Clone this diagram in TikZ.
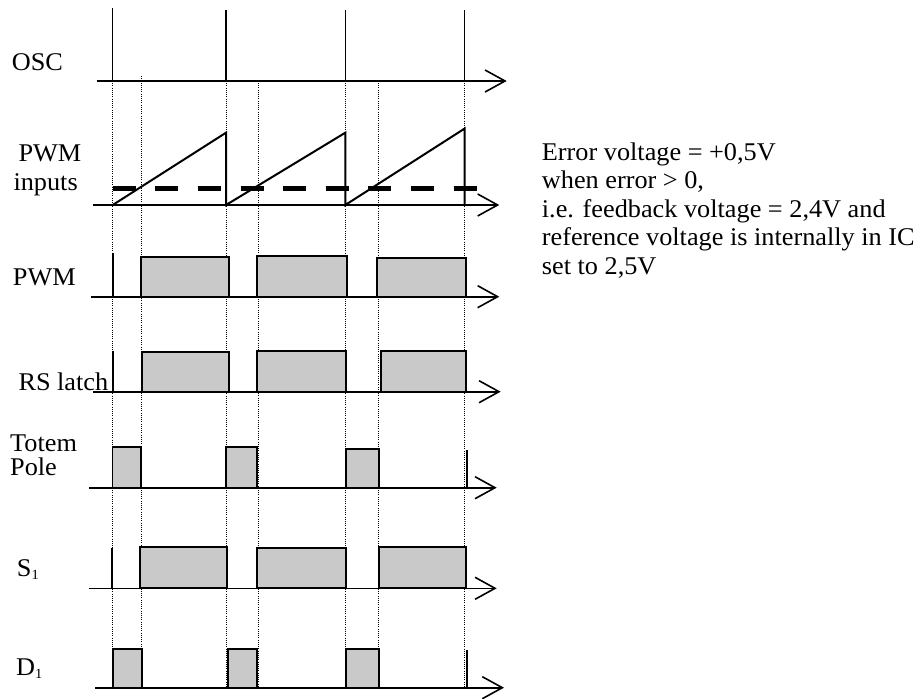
\documentclass[tikz,border=0pt]{standalone}
\usepackage{fontspec}
\setmainfont{Liberation Serif}[FakeStretch=1.03]
\usetikzlibrary{arrows.meta}
\definecolor{pulsegray}{RGB}{201,201,201}
\begin{document}
\begin{tikzpicture}[x=1pt,y=-1pt,
  axis/.style={line width=1.6pt,-{Straight Barb[length=20pt,width=22pt]}},
  edge/.style={line width=1.8pt},
  spike/.style={line width=1.3pt},
  pulse/.style={fill=pulsegray,draw=black,line width=1.8pt},
  guide/.style={line width=0.9pt,black,dash pattern=on 0.9pt off 1.3pt},
  ramp/.style={line width=2pt,line join=miter},
  thr/.style={line width=5pt,dash pattern=on 23pt off 19.6pt},
  lbl/.style={anchor=base west,inner sep=0pt,font=\fontsize{25.5}{28}\selectfont}]
\useasboundingbox (0,0) rectangle (924,699);

% timing guides
\foreach \gx/\gy in {112.7/81,141/76,226/81,258.3/83,345.3/81,378.7/83,464.7/81}
  \draw[guide] (\gx,\gy) -- (\gx,687.7);

% OSC: clock spikes
\foreach \ox/\oy in {112.7/8,226/10,345.3/10,464.7/10}
  \draw[spike] (\ox,\oy) -- (\ox,81);
\coordinate (oscA) at (96.7,81);  \coordinate (oscB) at (506.7,81);
\draw[axis] (oscA) -- (oscB);

% PWM inputs: sawtooth and error level
\draw[ramp] (112.7,205) -- (226,132.7) -- (226,205)
            -- (345.3,132.7) -- (345.3,205)
            -- (464.7,128.5) -- (464.7,205);
\coordinate (thrA) at (112.7,188.3); \coordinate (thrB) at (476.7,188.3);
\draw[thr] (thrA) -- (thrB);
\coordinate (rampA) at (93,205); \coordinate (rampB) at (499.3,205);
\draw[axis] (rampA) -- (rampB);

% PWM
\draw[edge] (112.7,253) -- (112.7,296.7);
\draw[pulse] (141,296.7) rectangle (228.7,256.7);
\draw[pulse] (257.3,296.7) rectangle (346.7,255.7);
\draw[pulse] (377.3,296.7) rectangle (465.7,257.7);
\coordinate (pwmA) at (91,296.7); \coordinate (pwmB) at (499.3,296.7);
\draw[axis] (pwmA) -- (pwmB);

% RS latch
\draw[edge] (112.7,350.7) -- (112.7,391.7);
\draw[pulse] (141.7,391.7) rectangle (229.3,352);
\draw[pulse] (257.3,391.7) rectangle (346,351.3);
\draw[pulse] (380.7,391.7) rectangle (466,351);
\coordinate (rsA) at (93,391.7); \coordinate (rsB) at (500.7,391.7);
\draw[axis] (rsA) -- (rsB);

% Totem pole
\draw[pulse] (112.4,487.7) rectangle (140.7,447.3);
\draw[pulse] (226,487.7) rectangle (256.7,447.3);
\draw[pulse] (346,487.7) rectangle (379.3,448.7);
\draw[edge] (467,450) -- (467,487.7);
\coordinate (tpA) at (89,487.7); \coordinate (tpB) at (496.7,487.7);
\draw[axis] (tpA) -- (tpB);

% S1
\draw[edge] (112.3,548.3) -- (112.3,588.3);
\draw[pulse] (140,588.3) rectangle (227.3,547.3);
\draw[pulse] (256.7,588.3) rectangle (346,548.3);
\draw[pulse] (379.3,588.3) rectangle (466,547.3);
\coordinate (sA) at (89,588.3); \coordinate (sB) at (496.7,588.3);
\draw[axis] (sA) -- (sB);

% D1
\draw[pulse] (112.7,687.7) rectangle (141.7,649);
\draw[pulse] (227.7,687.7) rectangle (257.3,649);
\draw[pulse] (346,687.7) rectangle (379.3,649.3);
\draw[edge] (466.7,650) -- (466.7,687.7);
\coordinate (dA) at (95,687.7); \coordinate (dB) at (504,687.7);
\draw[axis] (dA) -- (dB);

% signal names
\node[lbl] (osc) at (11.7,70) {OSC};
\node[lbl] (pwmin1) at (18.3,161.7) {PWM};
\node[lbl] (pwmin2) at (13.3,190.5) {inputs};
\node[lbl] (pwm) at (12.7,285) {PWM};
\node[lbl] (rs) at (18.3,390) {RS latch};
\node[lbl] (totem) at (10,451.7) {Totem};
\node[lbl] (pole) at (10,475) {Pole};
\node[lbl] (s1) at (16.7,576) {S\raisebox{-3.5pt}{\fontsize{14}{14}\selectfont 1}};
\node[lbl] (d1) at (16,675) {D\raisebox{-3.5pt}{\fontsize{14}{14}\selectfont 1}};

% operating point note
\node[lbl] (note1) at (541.7,160) {Error voltage = +0,5V};
\node[lbl] (note2) at (541.7,188.5) {when error > 0,};
\node[lbl] (note3) at (541.7,217) {i.e. feedback voltage = 2,4V and};
\node[lbl] (note4) at (541.7,245.5) {reference voltage is internally in IC};
\node[lbl] (note5) at (541.7,274) {set to 2,5V};
\end{tikzpicture}
\end{document}
